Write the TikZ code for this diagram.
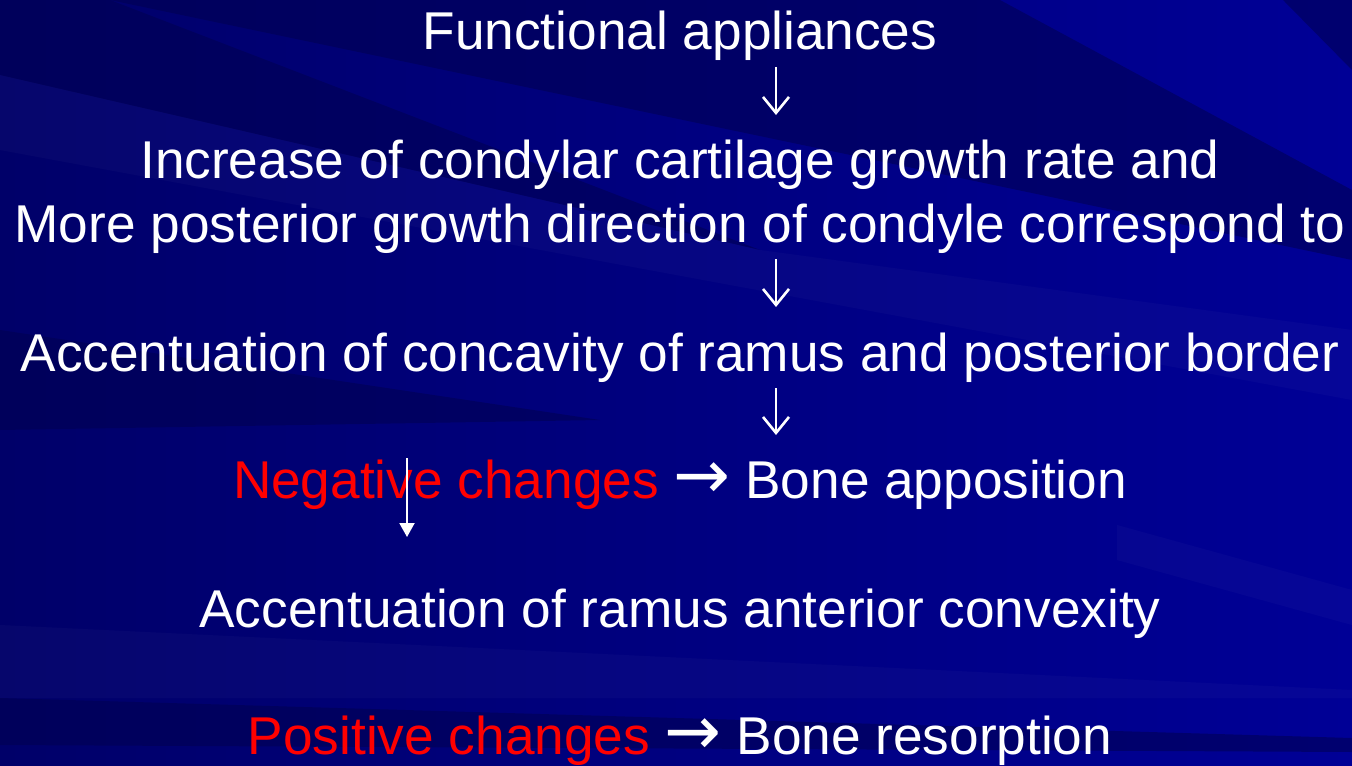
\documentclass[tikz,border=0pt]{standalone}
\usepackage{fontspec}
\setmainfont{Liberation Sans}
\newfontfamily\arrowfont{DejaVu Sans}
\usetikzlibrary{arrows.meta}
\definecolor{slideleft}{RGB}{0,0,105}
\definecolor{slideright}{RGB}{0,0,150}
\definecolor{slidedark}{RGB}{0,0,80}
\definecolor{negred}{RGB}{255,0,0}
\newcommand{\sidearrow}{{\arrowfont\fontsize{34}{34}\selectfont →}}

\begin{document}
\begin{tikzpicture}[x=0.5pt,y=-0.5pt,
  line/.style={font=\fontsize{26.6}{30}\selectfont,text=white,anchor=base,inner sep=0pt},
  down/.style={white,line width=1.3pt,-{Straight Barb[length=8pt,width=13pt]}},
  pointer/.style={white,line width=1pt,-{Triangle[length=7pt,width=7.5pt]}},
  streak/.style={fill=white,fill opacity=0.025},
  shadow/.style={fill=slidedark,fill opacity=0.55}
]
% background
\useasboundingbox (0,0) rectangle (1352,765);
\shade[left color=slideleft,right color=slideright] (0,0) rectangle (1352,765);
\fill[shadow] (0,0) -- (110,0) -- (760,250) -- (0,75) -- cycle;
\fill[shadow] (110,0) -- (1000,0) -- (1352,190) -- (1352,260) -- cycle;
\fill[shadow] (1283,0) -- (1352,0) -- (1352,70) -- cycle;
\fill[shadow] (0,330) -- (600,420) -- (0,430) -- cycle;
\fill[shadow] (0,698) -- (1352,738) -- (1352,752) -- (0,745) -- cycle;
\fill[streak] (0,75) -- (760,250) -- (1352,330) -- (1352,400) -- (0,150) -- cycle;
\fill[streak] (0,625) -- (1352,690) -- (1352,698) -- (0,698) -- cycle;
\fill[streak] (1117,525) -- (1352,590) -- (1352,625) -- (1117,560) -- cycle;

% text lines
\node[line] (appl) at (680,50) {Functional appliances};
\node[line] (incr) at (680,178) {Increase of condylar cartilage growth rate and};
\node[line] (post) at (680,242) {More posterior growth direction of condyle correspond to};
\node[line] (conc) at (680,371) {Accentuation of concavity of ramus and posterior border};
\node[line] (negc) at (680,498) {\textcolor{negred}{Negative changes} \sidearrow{} Bone apposition};
\node[line] (conv) at (680,627) {Accentuation of ramus anterior convexity};
\node[line] (posc) at (680,754) {\textcolor{negred}{Positive changes} \sidearrow{} Bone resorption};

% arrows
\coordinate (a1) at (776,67);  \coordinate (b1) at (776,115);
\coordinate (a2) at (776,259); \coordinate (b2) at (776,307);
\coordinate (a3) at (776,388); \coordinate (b3) at (776,435);
\coordinate (a4) at (407,458); \coordinate (b4) at (407,537);
\draw[down] (a1) -- (b1);
\draw[down] (a2) -- (b2);
\draw[down] (a3) -- (b3);
\draw[pointer] (a4) -- (b4);
\end{tikzpicture}
\end{document}
